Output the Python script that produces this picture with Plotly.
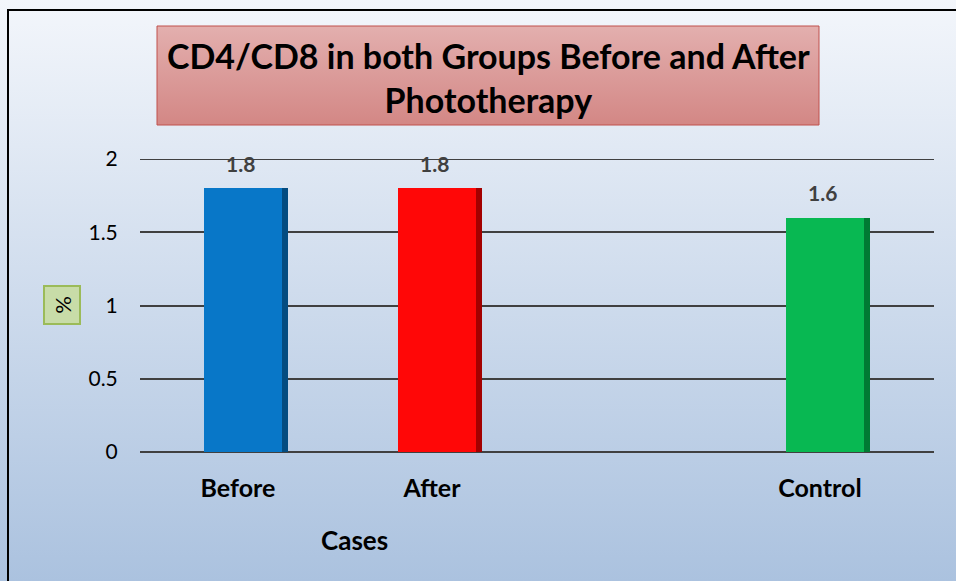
import base64
import plotly.graph_objects as go

# ---- data ----
categories = ["Before", "After", " ", "Control"]
values = [1.8, 1.8, None, 1.6]
value_labels = ["1.8", "1.8", "", "1.6"]
main_colors = ["#0877c8", "#ff0707", "#ffffff", "#08b852"]
side_colors = ["#044c80", "#a30000", "#ffffff", "#007a33"]
y_ticks = [0, 0.5, 1, 1.5, 2]
y_tick_labels = ["0", "0.5", "1", "1.5", "2"]
title_text = "CD4/CD8 in both Groups Before and After<br>Phototherapy"
x_title = "Cases"
y_title = "%"

W, H = 956, 581
L, R, T, B = 140, 22, 159, 129
PW, PH = W - L - R, H - T - B


def px_x(x):
    return (x - L) / PW


def px_y(y):
    return 1 - (y - T) / PH


def svg_uri(svg):
    return "data:image/svg+xml;base64," + base64.b64encode(svg.encode()).decode()


bg_svg = (
    '<svg xmlns="http://www.w3.org/2000/svg" width="100" height="100" preserveAspectRatio="none">'
    '<defs><linearGradient id="g" x1="0" y1="0" x2="0" y2="1">'
    '<stop offset="0" stop-color="#f3f6fb"/><stop offset="1" stop-color="#abc2df"/>'
    '</linearGradient></defs><rect width="100" height="100" fill="url(#g)"/></svg>'
)
title_svg = (
    '<svg xmlns="http://www.w3.org/2000/svg" width="100" height="100" preserveAspectRatio="none">'
    '<defs><linearGradient id="g" x1="0" y1="0" x2="0" y2="1">'
    '<stop offset="0" stop-color="#e3afae"/><stop offset="1" stop-color="#d38785"/>'
    '</linearGradient></defs><rect width="100" height="100" fill="url(#g)"/></svg>'
)

fig = go.Figure()

fig.add_trace(go.Bar(
    x=categories, y=values, marker=dict(color=main_colors, line=dict(width=0)),
    offset=-0.175, width=0.402, hoverinfo="skip", showlegend=False,
))
fig.add_trace(go.Bar(
    x=categories, y=values, marker=dict(color=side_colors, line=dict(width=0)),
    offset=0.227, width=0.031, hoverinfo="skip", showlegend=False,
))

annotations = []
for c, v, t in zip(categories, values, value_labels):
    if v is None:
        continue
    annotations.append(dict(
        x=c, y=v, xref="x", yref="y", text="<b>%s</b>" % t, showarrow=False,
        xshift=3, yshift=25, font=dict(family="Lato", size=21, color="#404040"),
    ))

annotations.append(dict(
    x=px_x(488), y=px_y(77), xref="paper", yref="paper", text="<b>%s</b>" % title_text,
    showarrow=False, font=dict(family="Lato", size=34, color="#000000"),
    xanchor="center", yanchor="middle",
))
annotations.append(dict(
    x=px_x(354), y=px_y(540), xref="paper", yref="paper", text="<b>%s</b>" % x_title,
    showarrow=False, font=dict(family="Lato", size=26, color="#000000"),
    xanchor="center", yanchor="middle",
))
annotations.append(dict(
    x=px_x(62), y=px_y(305), xref="paper", yref="paper", text=y_title,
    showarrow=False, font=dict(family="Lato", size=22, color="#000000"),
    textangle=-90, bgcolor="#c8dca8", bordercolor="#9bbb59", borderwidth=2,
    width=34, height=32, xanchor="center", yanchor="middle",
))

fig.update_layout(
    width=W, height=H,
    margin=dict(l=L, r=R, t=T, b=B, pad=0),
    paper_bgcolor="#abc2df", plot_bgcolor="rgba(0,0,0,0)",
    barmode="overlay", bargap=0,
    annotations=annotations,
    images=[
        dict(source=svg_uri(bg_svg), xref="paper", yref="paper",
             x=px_x(0), y=px_y(0), sizex=W / PW, sizey=H / PH,
             sizing="stretch", xanchor="left", yanchor="top", layer="below"),
        dict(source=svg_uri(title_svg), xref="paper", yref="paper",
             x=px_x(157), y=px_y(26), sizex=(819 - 157) / PW, sizey=(125 - 26) / PH,
             sizing="stretch", xanchor="left", yanchor="top", layer="below"),
    ],
    shapes=[
        dict(type="rect", xref="paper", yref="paper",
             x0=px_x(157), x1=px_x(819), y0=px_y(125), y1=px_y(26),
             line=dict(color="#c0504d", width=1), fillcolor="rgba(0,0,0,0)", layer="below"),
        dict(type="line", xref="paper", yref="y", x0=0, x1=1, y0=y_ticks[-1], y1=y_ticks[-1],
             line=dict(color="#404040", width=2), layer="below"),
        dict(type="rect", xref="paper", yref="paper",
             x0=px_x(8), x1=px_x(970), y0=px_y(600), y1=px_y(10),
             line=dict(color="#000000", width=2), fillcolor="rgba(0,0,0,0)", layer="above"),
    ],
    xaxis=dict(
        type="category", categoryorder="array", categoryarray=categories,
        range=[-0.505, 3.588], showgrid=False, zeroline=False, showline=False,
        ticks="outside", ticklen=14, tickcolor="rgba(0,0,0,0)",
        tickfont=dict(family="Lato", size=25, color="#000000"),
        tickvals=categories, ticktext=["<b>%s</b>" % c if c.strip() else "" for c in categories],
        fixedrange=True,
    ),
    yaxis=dict(
        range=[0, 2], tickvals=y_ticks, ticktext=y_tick_labels,
        showgrid=True, gridcolor="#404040", gridwidth=2,
        zeroline=True, zerolinecolor="#404040", zerolinewidth=2, showline=False,
        ticks="outside", ticklen=17, tickcolor="rgba(0,0,0,0)",
        tickfont=dict(family="Lato", size=21, color="#000000"),
        fixedrange=True,
    ),
)

fig.write_html(
    "out.html",
    config={"displayModeBar": False},
    post_script="document.body.style.margin='0';document.body.style.overflow='hidden';",
)
